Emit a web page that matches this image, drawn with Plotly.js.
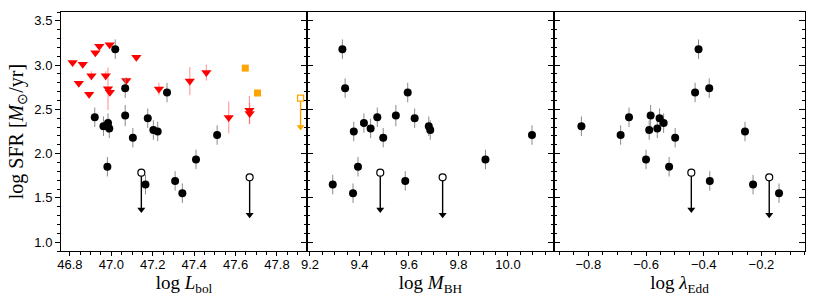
<!DOCTYPE html>
<html>
<head>
<meta charset="utf-8">
<script src="https://cdn.plot.ly/plotly-3.0.1.min.js"></script>
<style>html,body{margin:0;padding:0;background:#fff;}#chart{width:817px;height:304px;}</style>
</head>
<body>
<div id="chart"></div>
<script>
// Detected sources (black points): same objects in all three panels
const sfr    = [3.18, 2.74, 2.69, 2.41, 2.43, 2.40, 2.345, 2.31, 2.285, 2.267, 2.25, 2.21, 2.18, 1.934, 1.852, 1.692, 1.650, 1.553];
const sfrErr = [0.11, 0.11, 0.11, 0.11, 0.12, 0.11, 0.11, 0.11, 0.11, 0.11, 0.11, 0.11, 0.11, 0.11, 0.11, 0.11, 0.11, 0.11];
const lbol   = [47.019, 47.067, 47.269, 46.920, 47.067, 47.176, 46.984, 46.962, 46.990, 47.203, 47.224, 47.511, 47.104, 47.409, 46.981, 47.308, 47.165, 47.343];
const mbh    = [9.331, 9.342, 9.595, 9.472, 9.547, 9.623, 9.418, 9.680, 9.445, 9.686, 9.377, 10.097, 9.496, 9.909, 9.394, 9.585, 9.292, 9.374];
const ledd   = [-0.418, -0.381, -0.430, -0.659, -0.584, -0.553, -0.539, -0.824, -0.561, -0.589, -0.257, -0.688, -0.499, -0.600, -0.520, -0.379, -0.229, -0.139];

// Upper limits (open circles with arrows)
const limSfr = [1.785, 1.732];
const limEnd = [1.37, 1.31];
const limL   = [47.145, 47.668];
const limM   = [9.484, 9.736];
const limE   = [-0.443, -0.173];

// Red triangles (panel 1)
const redL   = [46.813, 46.862, 46.923, 46.942, 46.992, 47.121, 46.843, 46.904, 46.973, 46.893, 46.984, 46.993, 47.072, 47.230, 47.379, 47.459, 47.567, 47.667, 47.668];
const redSfr = [3.029, 3.010, 3.141, 3.212, 3.231, 3.089, 2.794, 2.880, 2.880, 2.670, 2.734, 2.693, 2.827, 2.730, 2.820, 2.917, 2.409, 2.491, 2.454];
const redErr = [0, 0, 0, 0, 0, 0, 0, 0.05, 0.05, 0, 0.24, 0, 0.04, 0.07, 0.16, 0.09, 0.18, 0.16, 0.12];

// Orange squares (panel 1)
const orgL   = [47.647, 47.706];
const orgSfr = [2.966, 2.685];
const orgLimL = [47.914];
const orgLimSfr = [2.626];
const orgLimEnd = [2.30];

const serif = 'Liberation Serif, Times New Roman, serif';
const sans = 'Liberation Sans, Arial, sans-serif';

function blackTrace(xs, xa, ya) {
  return {x: xs, y: sfr, xaxis: xa, yaxis: ya, type: 'scatter', mode: 'markers',
    marker: {color: '#000', size: 8},
    error_y: {type: 'data', array: sfrErr, visible: true, color: '#8a8a8a', thickness: 1, width: 0},
    hoverinfo: 'skip', showlegend: false};
}
function limTrace(xs, xa, ya) {
  return {x: xs, y: limSfr, xaxis: xa, yaxis: ya, type: 'scatter', mode: 'markers',
    marker: {color: '#fff', size: 7, line: {color: '#000', width: 1.2}},
    hoverinfo: 'skip', showlegend: false};
}
// Arrow shafts and heads built from the limit arrays
function arrowTraces(xs, starts, ends, xa, ya, color) {
  const out = [];
  for (let i = 0; i < xs.length; i++) {
    out.push({x: [xs[i], xs[i]], y: [starts[i], ends[i]], xaxis: xa, yaxis: ya, type: 'scatter', mode: 'lines',
      line: {color: color, width: 1.4}, hoverinfo: 'skip', showlegend: false});
  }
  out.push({x: xs, y: ends, xaxis: xa, yaxis: ya, type: 'scatter', mode: 'markers',
    marker: {color: color, size: 7, symbol: 'triangle-down'}, hoverinfo: 'skip', showlegend: false});
  return out;
}

const traces = [
  {x: redL, y: redSfr, xaxis: 'x', yaxis: 'y', type: 'scatter', mode: 'markers',
   marker: {color: '#ff0000', size: 9, symbol: 'triangle-down'},
   error_y: {type: 'data', array: redErr, visible: true, color: 'rgba(255,80,80,0.55)', thickness: 1.2, width: 0},
   hoverinfo: 'skip', showlegend: false},
  blackTrace(lbol, 'x', 'y'),
  blackTrace(mbh, 'x2', 'y2'),
  blackTrace(ledd, 'x3', 'y3'),
  {x: orgL, y: orgSfr, xaxis: 'x', yaxis: 'y', type: 'scatter', mode: 'markers',
   marker: {color: '#ffa500', size: 7, symbol: 'square'}, hoverinfo: 'skip', showlegend: false},
  ...arrowTraces(orgLimL, orgLimSfr, orgLimEnd, 'x', 'y', '#ffa500'),
  {x: orgLimL, y: orgLimSfr, xaxis: 'x', yaxis: 'y', type: 'scatter', mode: 'markers',
   marker: {color: '#fff', size: 6, symbol: 'square', line: {color: '#ffa500', width: 1.3}}, hoverinfo: 'skip', showlegend: false},
  ...arrowTraces(limL, limSfr, limEnd, 'x', 'y', '#000'),
  ...arrowTraces(limM, limSfr, limEnd, 'x2', 'y2', '#000'),
  ...arrowTraces(limE, limSfr, limEnd, 'x3', 'y3', '#000'),
  limTrace(limL, 'x', 'y'),
  limTrace(limM, 'x2', 'y2'),
  limTrace(limE, 'x3', 'y3'),
  {x: [], y: [], xaxis: 'x', yaxis: 'y4', type: 'scatter', mode: 'markers', showlegend: false}
];

const W = 744;
const d1 = 246 / W, d2 = 493 / W;
const tickfont = {family: sans, size: 13, color: '#000'};
const titlefont = {family: serif, size: 19, color: '#000'};

function xax(domain, range, tick0, anchor, title) {
  return {domain: domain, range: range, anchor: anchor, tick0: tick0, dtick: 0.2, tickformat: '.1f',
    ticks: 'outside', ticklen: 4, tickwidth: 1, tickcolor: '#000', ticklabelstandoff: -3,
    minor: {dtick: 0.05, tick0: tick0, ticks: 'outside', ticklen: 2.5, tickcolor: '#000', tickwidth: 1},
    showline: true, linecolor: '#000', linewidth: 1, mirror: true,
    showgrid: false, zeroline: false, tickfont: tickfont,
    title: {text: title, font: titlefont, standoff: 0}};
}
function yin(anchor, extra) {
  return Object.assign({anchor: anchor, range: [0.9, 3.6], tick0: 1.0, dtick: 0.5, domain: [0, 1],
    ticks: 'inside', ticklen: 6, tickwidth: 1, tickcolor: '#000',
    minor: {dtick: 0.1, tick0: 1.0, ticks: 'inside', ticklen: 3, tickcolor: '#000', tickwidth: 1},
    showline: true, linecolor: '#000', linewidth: 1, mirror: 'ticks',
    showticklabels: false, showgrid: false, zeroline: false}, extra || {});
}

const layout = {
  width: 817, height: 304,
  margin: {l: 61, r: 12, t: 12, b: 53},
  paper_bgcolor: '#fff', plot_bgcolor: '#fff',
  showlegend: false,
  xaxis: xax([0, d1], [46.757, 47.945], 46.8, 'y', 'log <i>L</i><sub>bol</sub>'),
  xaxis2: xax([d1, d2], [9.188, 10.186], 9.2, 'y2', 'log <i>M</i><sub>BH</sub>'),
  xaxis3: xax([d2, 1], [-0.919, -0.049], -1.0, 'y3', 'log <i>λ</i><sub>Edd</sub>'),
  yaxis: {anchor: 'x', range: [0.9, 3.6], tick0: 1.0, dtick: 0.5, tickformat: '.1f', domain: [0, 1],
    ticks: 'outside', ticklen: 5, tickwidth: 1, tickcolor: '#000',
    minor: {dtick: 0.1, tick0: 1.0, ticks: 'outside', ticklen: 3, tickcolor: '#000', tickwidth: 1},
    showline: true, linecolor: '#000', linewidth: 1, mirror: false,
    showgrid: false, zeroline: false, tickfont: tickfont,
    title: {text: 'log SFR [<i>M</i><sub>⊙</sub>/yr]', font: {family: serif, size: 20, color: '#000'}, standoff: 5}},
  yaxis2: yin('x2'),
  yaxis3: yin('x3'),
  yaxis4: yin('x', {overlaying: 'y', side: 'right', mirror: false})
};

Plotly.newPlot('chart', traces, layout, {staticPlot: true, displayModeBar: false});
</script>
</body>
</html>
